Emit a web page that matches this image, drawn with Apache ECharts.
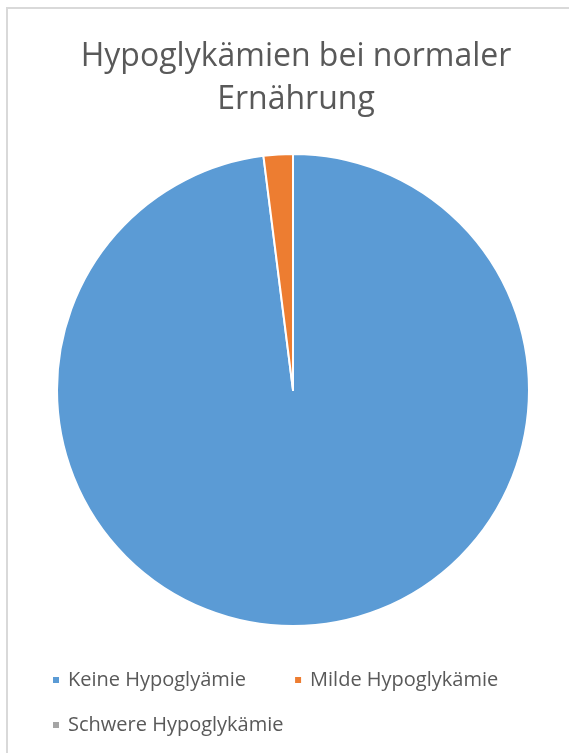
<!DOCTYPE html>
<html>
<head>
<meta charset="utf-8">
<script src="https://cdn.jsdelivr.net/npm/echarts@6/dist/echarts.min.js"></script>
<style>
  html, body { margin: 0; padding: 0; background: #ffffff; }
  #chart { width: 569px; height: 753px; }
</style>
</head>
<body>
<div id="chart"></div>
<script>
// Anteile der Hypoglykämie-Kategorien (in %)
const categories = ['Keine Hypoglyämie', 'Milde Hypoglykämie', 'Schwere Hypoglykämie'];
const values = [98, 2, 0];
const colors = ['#5B9BD5', '#ED7D31', '#A5A5A5'];

const FONT = '"Open Sans", sans-serif';

const legendText = {
  fontFamily: FONT,
  fontSize: 20,
  color: '#595959',
  padding: [0, 0, 0, 3]
};

const chart = echarts.init(document.getElementById('chart'), null, { renderer: 'canvas' });

chart.setOption({
  backgroundColor: '#ffffff',
  animation: false,
  title: {
    text: 'Hypoglykämien bei normaler\nErnährung',
    left: 291,
    textAlign: 'center',
    top: 30,
    textStyle: {
      fontFamily: FONT,
      fontSize: 32,
      fontWeight: 'normal',
      color: '#595959',
      lineHeight: 43
    }
  },
  legend: [{
    left: 46,
    top: 665,
    orient: 'horizontal',
    icon: 'rect',
    itemWidth: 8,
    itemHeight: 8,
    itemGap: 47,
    textStyle: legendText,
    data: categories.slice(0, 2)
  }, {
    left: 46,
    top: 710,
    orient: 'horizontal',
    icon: 'rect',
    itemWidth: 8,
    itemHeight: 8,
    textStyle: legendText,
    data: categories.slice(2)
  }],
  graphic: [{
    type: 'rect',
    shape: { x: 7, y: 8, width: 700, height: 900 },
    style: { fill: 'none', stroke: '#d9d9d9', lineWidth: 2 },
    silent: true
  }],
  series: [{
    type: 'pie',
    center: [293, 390],
    radius: [0, 236],
    startAngle: 90,
    clockwise: true,
    label: { show: false },
    labelLine: { show: false },
    itemStyle: { borderColor: '#ffffff', borderWidth: 2 },
    emphasis: { disabled: true },
    data: categories.map((name, i) => ({
      name: name,
      value: values[i],
      itemStyle: { color: colors[i] }
    }))
  }]
});
</script>
</body>
</html>
